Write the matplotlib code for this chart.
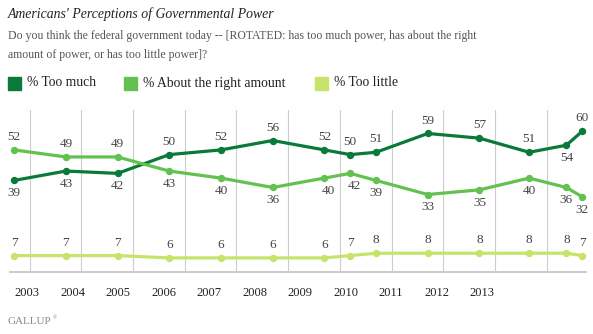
import numpy as np
import matplotlib
matplotlib.use("Agg")
import matplotlib.pyplot as plt

# Survey dates (decimal years) and results
dates = [2002.7, 2003.7, 2004.7, 2005.7, 2006.7, 2007.7, 2008.7, 2009.2,
         2009.7, 2010.7, 2011.7, 2012.66, 2013.38, 2013.69]
too_much = [39, 43, 42, 50, 52, 56, 52, 50, 51, 59, 57, 51, 54, 60]
about_right = [52, 49, 49, 43, 40, 36, 40, 42, 39, 33, 35, 40, 36, 32]
too_little = [7, 7, 7, 6, 6, 6, 6, 7, 8, 8, 8, 8, 8, 7]
years = ["2003", "2004", "2005", "2006", "2007", "2008", "2009", "2010",
         "2011", "2012", "2013"]

c_much = "#0a7a3a"
c_right = "#63c24f"
c_little = "#c6e46c"
serif = "Liberation Serif"

fig = plt.figure(figsize=(5.93, 3.34), dpi=100)
ax = fig.add_axes([10/593, 1-272/334, 576/593, 162/334])
ax.set_xlim(2002.62, 2013.76)
ax.set_ylim(0, 69)

# vertical grid at year starts
for y in range(2003, 2014):
    ax.axvline(y, color="#cccccc", lw=0.8, zorder=0)

for vals, col in [(too_much, c_much), (about_right, c_right), (too_little, c_little)]:
    ax.plot(dates, vals, color=col, lw=2.3, marker="o", ms=4.3, zorder=3)

# label placement: +1 above, -1 below
pos_much = [-1, -1, -1, 1, 1, 1, 1, 1, 1, 1, 1, 1, -1, 1]
pos_right = [1, 1, 1, -1, -1, -1, -1, -1, -1, -1, -1, -1, -1, -1]
dx_right = [0, 0, 0, 0, 0, 0, 3, 3, 0, 0, 0, 0, 0, 0]
for vals, pos, dxs in [(too_much, pos_much, [0]*14),
                       (about_right, pos_right, dx_right),
                       (too_little, [1]*14, [0]*14)]:
    for x, v, p, d in zip(dates, vals, pos, dxs):
        ax.annotate(str(v), (x, v), xytext=(d, 9.3*p), textcoords="offset points",
                    ha="center", va="center", fontsize=9.5, color="#444444",
                    family=serif)

for s in ["top", "right", "left"]:
    ax.spines[s].set_visible(False)
ax.spines["bottom"].set_color("#cccccc")
ax.spines["bottom"].set_linewidth(1.5)
ax.set_yticks([])
ax.set_xticks(np.linspace(2002.95, 2011.75, len(years)))
ax.set_xticklabels(years, family=serif, fontsize=9, color="#222222")
ax.tick_params(axis="x", length=0, pad=11)

fig.text(8/593, 1-14/334, "Americans' Perceptions of Governmental Power",
         family=serif, style="italic", fontsize=9.9, color="#222222", va="center")
fig.text(8/593, 1-36/334,
         "Do you think the federal government today -- [ROTATED: has too much power, has about the right",
         family=serif, fontsize=8.5, color="#555555", va="center")
fig.text(8/593, 1-55/334, "amount of power, or has too little power]?",
         family=serif, fontsize=8.5, color="#555555", va="center")

legend = [("% Too much", c_much, 8), ("% About the right amount", c_right, 124),
          ("% Too little", c_little, 315)]
for lab, col, x0 in legend:
    fig.patches.append(plt.Rectangle((x0/593, 1-90/334), 13/593, 13/334,
                                     transform=fig.transFigure, color=col))
    fig.text((x0+19)/593, 1-83/334, lab, family=serif, fontsize=9.8,
             color="#222222", va="center")

logo = fig.text(8/593, 1-322/334, "GALLUP", family=serif, fontsize=8,
                color="#888888", va="center")
fig.canvas.draw()
bb = logo.get_window_extent()
fig.text((bb.x1 + 1)/593, 1-318/334, "\u00ae", family=serif, fontsize=4,
         color="#888888", va="center")

fig.savefig("out.png", dpi=100)
